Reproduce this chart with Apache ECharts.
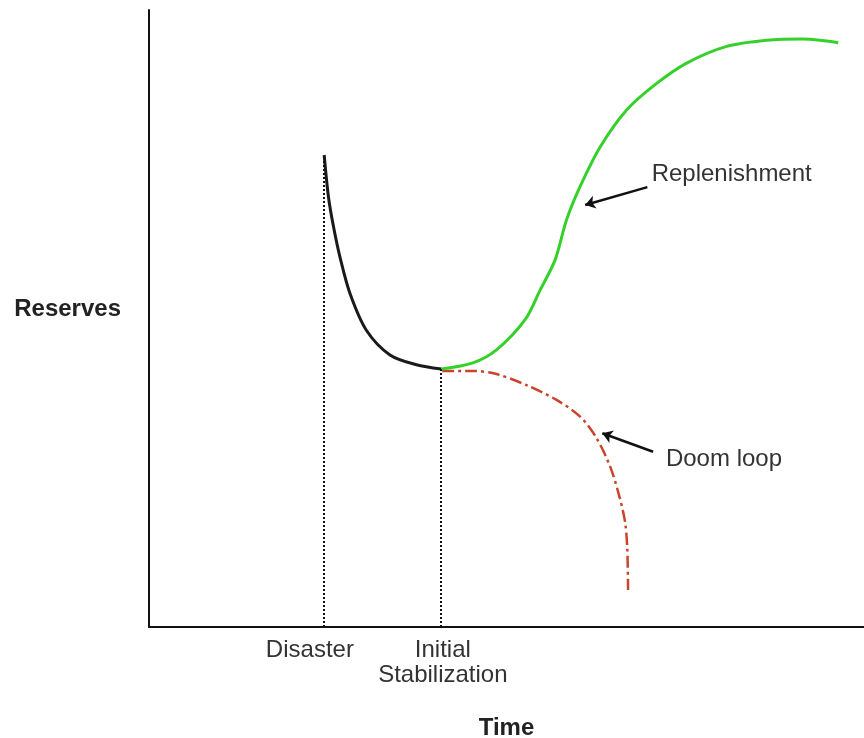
<!DOCTYPE html>
<html>
<head>
<meta charset="utf-8">
<script src="https://cdn.jsdelivr.net/npm/echarts@6/dist/echarts.min.js"></script>
<style>
  html, body { margin: 0; padding: 0; background: #fff; }
  #chart { width: 864px; height: 738px; }
</style>
</head>
<body>
<div id="chart"></div>
<script>
// time on x (0-100), reserves on y (0-100)
const declinePoints = [
  [24.5, 76.5], [25.1, 69.7], [25.8, 64.9], [26.7, 60.0], [28.1, 54.1],
  [30.4, 48.1], [33.7, 44.1], [37.4, 42.5], [40.9, 41.8]
]
const replenishPoints = [
  [40.9, 41.8], [45.3, 42.8], [48.6, 44.9], [52.6, 49.8], [54.7, 54.6],
  [56.8, 59.5], [58.4, 66.0], [60.3, 71.4], [63.1, 77.8], [66.8, 83.8],
  [71.0, 88.1], [75.2, 91.4], [80.8, 94.1], [86.4, 95.1], [91.5, 95.3],
  [96.4, 94.7]
]
const doomPoints = [
  [41.0, 41.5], [45.4, 41.5], [48.6, 41.0], [52.8, 39.2], [57.0, 36.8],
  [60.3, 34.1], [62.6, 30.6], [64.5, 26.0], [65.8, 21.1], [66.6, 16.9],
  [66.9, 12.5], [67.0, 6.0]
]
const eventTimes = [24.5, 40.8]
const eventLabelTimes = [22.5, 41.1]
const eventLabels = ["Disaster", "Initial\nStabilization"]
const annotations = [
  { text: "Replenishment", at: [70.3, 73.3], from: [69.7, 71.3], to: [61.0, 68.4] },
  { text: "Doom loop", at: [72.3, 27.2], from: [70.5, 28.4], to: [63.4, 31.4] }
]

const font = "'Liberation Sans', Arial, Helvetica, sans-serif"
const chart = echarts.init(document.getElementById("chart"))

const option = {
  animation: false,
  grid: { left: 149, right: 0, top: 10, bottom: 111, outerBoundsMode: "none" },
  xAxis: {
    type: "value",
    min: 0,
    max: 100,
    name: "Time",
    nameLocation: "middle",
    nameGap: 89,
    nameTextStyle: { fontFamily: font, fontSize: 24, fontWeight: "bold", color: "#222" },
    axisLine: { show: true, onZero: false, lineStyle: { color: "#111", width: 2 } },
    axisTick: { show: false },
    splitLine: { show: false },
    axisLabel: {
      customValues: eventLabelTimes,
      formatter: (v) => eventLabels[eventLabelTimes.indexOf(v)] || "",
      fontFamily: font,
      fontSize: 24,
      color: "#333",
      lineHeight: 25,
      margin: 11,
      align: "center"
    }
  },
  yAxis: {
    type: "value",
    min: 0,
    max: 100,
    name: "Reserves",
    nameLocation: "middle",
    nameRotate: 0,
    nameGap: 28,
    nameTextStyle: {
      fontFamily: font, fontSize: 24, fontWeight: "bold", color: "#222",
      verticalAlign: "bottom", lineHeight: 18
    },
    axisLine: { show: true, onZero: false, lineStyle: { color: "#111", width: 2 } },
    axisTick: { show: false },
    axisLabel: { show: false },
    splitLine: { show: false }
  },
  series: [
    {
      name: "Doom loop",
      type: "line",
      data: doomPoints,
      smooth: 0.3,
      showSymbol: false,
      lineStyle: { color: "#c9442b", width: 2.5, type: [12, 4, 3, 4] }
    },
    {
      name: "Decline",
      type: "line",
      data: declinePoints,
      smooth: 0.3,
      showSymbol: false,
      lineStyle: { color: "#1a1a1a", width: 3 },
      markLine: {
        silent: true,
        symbol: "none",
        label: { show: false },
        lineStyle: { color: "#111", width: 2, type: [2, 2] },
        data: [
          [{ coord: [eventTimes[0], 0] }, { coord: [eventTimes[0], declinePoints[0][1]] }],
          [{ coord: [eventTimes[1], 0] }, { coord: [eventTimes[1], declinePoints[declinePoints.length - 1][1]] }]
        ]
      }
    },
    {
      name: "Replenishment",
      type: "line",
      data: replenishPoints,
      smooth: 0.3,
      showSymbol: false,
      lineStyle: { color: "#35d12a", width: 3 },
      markLine: {
        silent: true,
        symbol: ["none", "arrow"],
        symbolSize: 10,
        label: { show: false },
        lineStyle: { color: "#111", width: 2.5, type: "solid" },
        data: annotations.map((a) => [{ coord: a.from }, { coord: a.to }])
      },
      markPoint: {
        silent: true,
        symbol: "circle",
        symbolSize: 0,
        data: annotations.map((a) => ({
          coord: a.at,
          label: {
            show: true,
            position: "right",
            distance: 0,
            formatter: a.text,
            fontFamily: font,
            fontSize: 24,
            color: "#333"
          }
        }))
      }
    }
  ]
}

chart.setOption(option)
</script>
</body>
</html>
